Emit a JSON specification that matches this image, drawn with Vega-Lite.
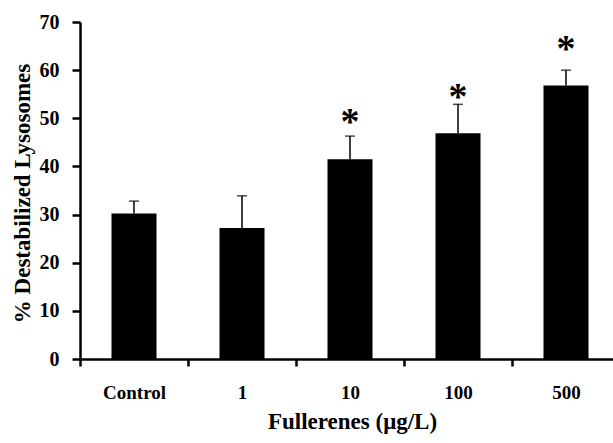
{
  "$schema": "https://vega.github.io/schema/vega-lite/v6.json",
  "width": 533,
  "height": 337,
  "autosize": {"type": "none"},
  "padding": {"left": 80, "top": 22, "right": 0, "bottom": 84},
  "background": "white",
  "data": {
    "values": [
      {"group": "Control", "value": 30.2, "err": 32.8, "star": null},
      {"group": "1", "value": 27.2, "err": 33.9, "star": null},
      {"group": "10", "value": 41.5, "err": 46.3, "star": 50.3},
      {"group": "100", "value": 46.9, "err": 52.9, "star": 55.4},
      {"group": "500", "value": 56.8, "err": 60.0, "star": 65.4}
    ]
  },
  "encoding": {
    "x": {
      "field": "group",
      "type": "nominal",
      "sort": null,
      "scale": {"range": [0, 540], "paddingInner": 0, "paddingOuter": 0},
      "axis": {
        "title": "Fullerenes (μg/L)",
        "labelAngle": 0,
        "labelFontSize": 19,
        "tickBand": "extent",
        "tickSize": 7,
        "labelPadding": 17,
        "titleX": 272,
        "titleY": 69,
        "titleBaseline": "alphabetic",
        "titleAlign": "center"
      }
    }
  },
  "layer": [
    {
      "mark": {"type": "bar", "color": "black", "width": {"band": 0.417}},
      "encoding": {
        "y": {
          "field": "value",
          "type": "quantitative",
          "scale": {"domain": [0, 70], "nice": false},
          "axis": {
            "title": "% Destabilized Lysosomes",
            "values": [0, 10, 20, 30, 40, 50, 60, 70],
            "labelFontSize": 20,
            "tickSize": 8,
            "labelPadding": 13,
            "titleAngle": 270,
            "titleX": -51,
            "titleY": 171,
            "titleBaseline": "alphabetic",
            "titleAlign": "center"
          }
        }
      }
    },
    {
      "mark": {"type": "rule", "color": "black", "strokeWidth": 1.5},
      "encoding": {
        "y": {"field": "value", "type": "quantitative"},
        "y2": {"field": "err"}
      }
    },
    {
      "mark": {"type": "tick", "color": "black", "orient": "horizontal", "size": 10, "thickness": 1.5},
      "encoding": {
        "y": {"field": "err", "type": "quantitative"}
      }
    },
    {
      "transform": [{"filter": "datum.star != null"}],
      "mark": {"type": "text", "text": "*", "font": "Liberation Serif", "fontWeight": "bold", "fontSize": 38, "baseline": "middle", "align": "center", "dy": 6, "color": "black"},
      "encoding": {
        "y": {"field": "star", "type": "quantitative"}
      }
    }
  ],
  "config": {
    "view": {"stroke": null},
    "axis": {
      "grid": false,
      "domainColor": "black",
      "domainWidth": 2.5,
      "tickColor": "black",
      "tickWidth": 2.5,
      "labelFont": "Liberation Serif",
      "labelFontWeight": "bold",
      "labelFontSize": 18,
      "labelColor": "black",
      "titleFont": "Liberation Serif",
      "titleFontWeight": "bold",
      "titleFontSize": 23,
      "titleColor": "black"
    }
  }
}
